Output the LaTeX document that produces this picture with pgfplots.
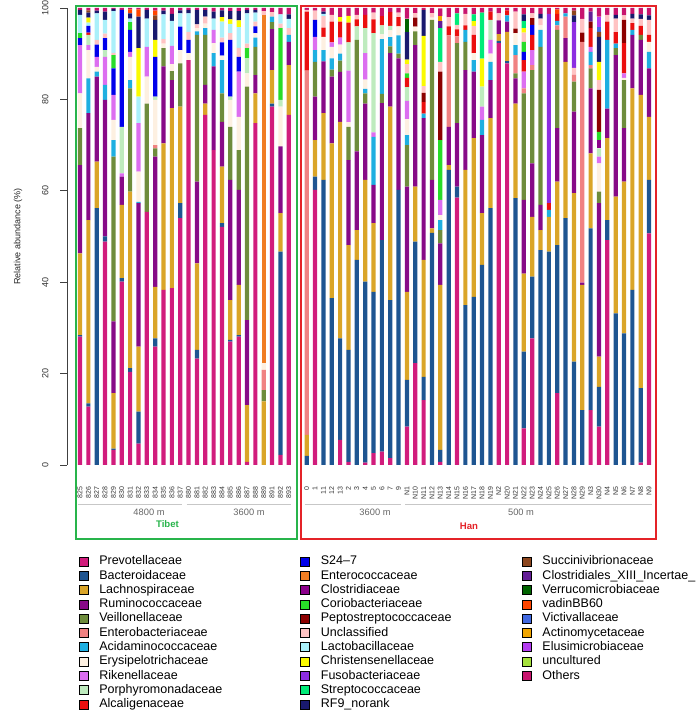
\documentclass[border=0pt]{standalone}
\usepackage{fontspec}
\setmainfont{Liberation Sans}
\usepackage{pgfplots}
\usepackage{pgfplotstable}
\pgfplotsset{compat=1.18}

\definecolor{cPre}{RGB}{209,28,124}
\definecolor{cBac}{RGB}{30,85,145}
\definecolor{cLac}{RGB}{218,165,40}
\definecolor{cRum}{RGB}{135,10,135}
\definecolor{cVei}{RGB}{110,140,60}
\definecolor{cEnt}{RGB}{240,130,130}
\definecolor{cAci}{RGB}{30,175,225}
\definecolor{cEry}{RGB}{253,240,225}
\definecolor{cRik}{RGB}{220,110,240}
\definecolor{cPor}{RGB}{190,235,190}
\definecolor{cAlc}{RGB}{235,15,15}
\definecolor{cS24}{RGB}{0,0,235}
\definecolor{cEnc}{RGB}{240,125,35}
\definecolor{cClo}{RGB}{140,0,140}
\definecolor{cCor}{RGB}{40,220,40}
\definecolor{cPep}{RGB}{140,0,0}
\definecolor{cUnc}{RGB}{255,195,195}
\definecolor{cLab}{RGB}{170,240,250}
\definecolor{cChr}{RGB}{250,250,0}
\definecolor{cFus}{RGB}{140,45,225}
\definecolor{cStr}{RGB}{0,235,120}
\definecolor{cRF9}{RGB}{25,25,110}
\definecolor{cSuc}{RGB}{140,70,30}
\definecolor{cCXI}{RGB}{100,30,150}
\definecolor{cVer}{RGB}{0,100,0}
\definecolor{cvad}{RGB}{255,70,0}
\definecolor{cVic}{RGB}{65,105,225}
\definecolor{cAct}{RGB}{240,165,0}
\definecolor{cElu}{RGB}{180,60,240}
\definecolor{cunc}{RGB}{165,225,60}
\definecolor{cOth}{RGB}{200,20,110}
\definecolor{boxgreen}{RGB}{40,180,75}
\definecolor{boxred}{RGB}{228,35,40}

\pgfplotstableread{
x Pre Bac Lac Rum Vei Ent Aci Ery Rik Por Alc S24 Enc Clo Cor Pep Unc Lab Chr Fus Str RF9 Suc CXI Ver vad Vic Act Elu unc Oth
0  28.1 0.3 17.9 19.3 8.1  0 0 7.6 10.6 0  0 1.5 0 0 1.1  0 0 4 0 0  0 1.1 0 0 0  0 0 0 0 0  0.4
1  12.8 0.7 40.1 23.4 0  0 7.6 6.2 1.1 2.2  0.5 1.5 0 0 0  0 0 0.7 1.1 0  0 1.1 0.5 0 0  0 0 0 0 0  0.5
2  0 56.2 10.2 18.6 0  0 1.1 1 2.2 0  0 2.7 0 0 0  0 1 5.8 0 0  0 0.6 0 0 0  0 0 0 0 0  0.6
3  48.9 1.1 0 29.9 0  0 3.3 0 6.1 1.5  0 2.6 0 0 0  0 1 3 0 0  0 1.8 0 0 0  0 0 0 0 0  0.8
4  3.3 0.3 12.1 15.7 36.1  0 3.6 4.4 5.5 0  0 5.8 0 0 2.9  0 0.5 9.1 0 0  0 0.5 0 0 0  0 0 0 0 0  0.2
5  40.1 0.8 16 6.2 0  0 0 0 0.7 10.2  0 25.6 0 0 0  0 0 0 0 0  0 0 0 0 0  0 0 0 0 0  0.4
6  20.4 0.8 38.6 0 22.6  0 1.8 5.1 1.1 0  0 4.8 0 0 1.7  0 0 0.8 0 0  0 1.1 0 0 0  0.9 0 0 0 0  0.3
7  4.7 7 14.2 31.4 0  0 0.3 6.6 10.6 0  0 0 0 0 0  0 0 5.8 10.6 0  0 6.9 0 0 0  1.6 0 0 0 0  0.3
8  55.4 0 0 0 23.7  0 0 5.9 6.5 0  0 0 0 0 0  0 0 6.2 0 0  0 1.9 0 0 0  0 0 0 0 0  0.4
9  25.9 1.8 11.3 28.5 1.8  0.7 0 9.9 0 0.7  0 8.7 0 0 0  0 0 0 3.7 0  0 4.4 1 0 0  1 0 0 0 0  0.6
10  38.3 0 32.1 16.8 4  0 0 1 0 0  0 0 0 0 0  0 1 5.4 0 0  0 0.8 0 0 0  0 0 0 0 0  0.6
11  38.7 0 39.4 6.1 2  0 0 1.5 4 0  0 0 0 0 0  0 0 5.5 0 0  0 1.5 0 0 0  0 0 0 0 0  1.3
12  54 3.3 21.1 0 9.5  0 0 2.9 0 0  0 5.1 0 0 0  0 0 2.9 0 0  0 0.7 0 0 0  0 0 0 0 0  0.5
13  88.6 0 0 0 0  0 0 1.5 0 0  0 2.9 0 0 0  0 1.8 4 0 0  0 0.8 0 0 0  0 0 0 0 0  0.4
14  23.3 1.9 18.9 17.9 32.1  0 0.8 0.7 0 0  0 0 0 0 0  0 0.8 0 0 0  0 3.2 0 0 0  0 0 0 0 0  0.4
15  76.6 0 2.5 4.1 10.9  0 1.5 1 0 0  0 0 0 0 0  0 1.5 0 0 0  0 1.5 0 0 0  0 0 0 0 0  0.4
16  68.9 0 0 18.3 0  0 2.9 2.2 2.9 0  0 0 0 0 0  0 0 2.5 0 0  0 1.5 0 0 0  0 0 0 0 0  0.8
17  52.1 0.8 12.4 9.8 6.2  0 7.3 1 0 0  0 2.9 0 0 0  0 1 3.5 1 0  0 1.5 0 0 0  0 0 0 0 0  0.5
18  27 0.4 8.7 26.3 11.6  0 0 5.9 0 0.7  0 12.4 0 0 0  0 1.5 2 1 0  0 1.8 0 0 0  0 0 0 0 0  0.7
19  28.1 0.3 11 20.8 8.7  0 0 7.3 9.9 0  0 3.2 0 0 0  0 2 4.5 1.5 0  0 2 0 0 0  0 0 0 0 0  0.7
20  0.7 0 12.4 18.6 51.1  0 0 2.9 0 3.3  0 0 0 0 2.2  0 1 6.6 0 0  0 0.8 0 0 0  0 0 0 0 0  0.4
21  74.8 0 6.5 4 6.2  0 2 1 0 0  0 1.5 0 0 0  0 1 2 0 0  0 0.6 0 0 0  0 0 0 0 0  0.4
22  0 0 13.9 0 2.5  4.4 0 1.5 0 0  0 0 76.2 0 0  0 0.8 0 0 0  0 0 0 0 0  0 0 0 0 0  0.7
23  78.4 0.7 7.3 9 1.5  0 1.2 0 0 0  0 0 0 0 0  0 1 0 0 0  0 0 0 0 0  0 0 0 0 0  0.9
24  2.2 44.5 8.4 14.6 0  0 0 8.7 0 1.5  0 0 0 0 15.7  0 1 2 0 0  0 0 0 0 0  0 0 0 0 0  1.4
25  76.6 0 10.9 5.1 0  0 1.5 0 0 0  0 0 0 0 0  0 1.5 2 0 0  0 1 0 0 0  0 0 0 0 0  1.4
27.15  0 2 4.6 0 0  79.7 0 0 0 0  12.9 0 0 0 0  0 0.4 0 0 0  0 0 0 0 0  0 0 0 0 0  0.4
28.15  60.2 2.9 8 9.5 7.6  0 2.6 0 2.9 0  0 3.7 0 0 0  0 2 0 0 0  0 0 0 0 0  0 0 0 0 0  0.6
29.15  0 62.4 14.6 11.3 0  0 2.5 2.9 0 0  2 0 0 0 0  0 2.5 0.5 0 0  0 0.5 0 0 0  0 0 0 0 0  0.8
30.15  0 36.5 33.9 14.6 1.5  0 2.5 2.5 1 0  4.5 0 0 0 0  0 1.5 0 0 0  0 0 0 0 0  0 0 0 0 0  1.5
31.15  5.5 22.2 47.4 10.9 2.5  0 1.5 2 1.5 0  3.5 0 0 0 0  0 0 0 1 0  0 0 0 0 0  0 0 0 0 0  2
32.15  0.7 24.5 22.9 18.6 7.3  0 0 1 11.3 6.2  4.3 0 0 0 0  0 0 0 1.5 0  0 0 0 0 0  0 0 0 0 0  1.7
33.15  0 44.9 6.5 17.2 24.4  0 0 0 0 3  1.5 0 0 0 0  0 1 0 0 0  0 0 0 0 0  0 0 0 0 0  1.5
34.15  0.5 39.6 22.3 16.7 2.2  0 1 2 5.8 5.5  2.9 0 0 0 0  0 0 0 0 0  0 0 0 0 0  0 0 0 0 0  1.5
35.15  2.6 35.3 15 8.4 0  0 10.5 0 1 21.7  3 0 0 0 0  0 1.5 0 0 0  0 0 0 0 0  0 0 0 0 0  1
36.15  2.9 46.3 0 30 2  0 12 1 0 2  2 0 0 0 0  0 0 0 0 0  0 0 0 0 0  0 0 0 0 0  1.8
37.15  1.5 34.6 42.3 11.7 1.5  0 2 1.5 0 1  3 0 0 0 0  0 0 0 0 0  0 0 0 0 0  0 0 0 0 0  0.9
38.15  0 60.2 0 28.8 1  0 4 2 0 0  2 0 0 0 0  0 1 0 0 0  0 0 0 0 0  0 0 0 0 0  1
39.15  8.4 10.2 19.3 23 9.1  0 2.2 3.5 4 3  2 0 0 0 1  0 2 0 1 0  0 6 0 0 3  0 0 0 0 0  2.3
40.15  22.3 26.6 12 31 3  0 0 1 0 0  0 0 0 0 0  2 1 0 0 0  0 0 0 0 0  0 0 0 0 0  1.1
41.15  14.2 5.1 25.6 31 0  0 1 0 0 0  2.5 0 0 0 0  2 1.5 0 11 0  0 5.7 0 0 0  0 0 0 0 0  0.4
42.15  0 50.8 1 10.6 35  0 0 0.5 0 0  0 0 0 0 0  0 1 0 0 0  0 0 0 0 0  0 0 0 0 0  1.1
43.15  0.7 2.6 36.1 9.1 2.9  0 2.2 1.1 3.3 0  0 0 0 0 13.1  15 2.1 0 0 0  7.4 0 0 1.5 0  0 0 1.1 0 0  1.7
44.15  0 64.6 1 8.4 0  20 0 0 0 0  2 0 0 0 0  0 2 0 0 0  0 0 0 0 0  0 0 0 0 0  2
45.15  58.5 2.4 0 13.9 17.5  1.5 0 0 0 0  1.5 0 0 0 0  0 1 0 0 0  2.5 0 0 0 0  0 0 0 0 0  1.2
46.15  0 35 29.6 21.8 6.2  0 2.6 0 0 0  1 0 0 0 0  0 2.5 0 0 0  0 0 0 0 0  0 0 0 0 0  1.3
47.15  0 36.8 34.7 14.6 0  0 2.5 1.5 0 0  4 0 0 0 0  0 2 0 1 0  1.5 0 0 0 0  0 0 0 0 0  1.4
48.15  0 43.8 11.3 17.1 0  0 3.3 0 2.9 4.4  0 0 0 0 0  0 0 0 6.1 0  10.1 0 0 0 0  0 0 0 0 0  1
49.15  0 56.2 19.7 8.3 0  0 4 1.8 3 4.4  1.8 0 0 0 0  0 0 0 0 0  0 0 0 0 0  0 0 0 0 0  0.8
50.15  92.3 0.5 1.5 3 0  0 0 0 0 0  0 0 0 0 0  0 1.5 0 0 0  0 0 0 0 0  0 0 0 0 0  1.2
51.15  87.9 0.5 6.4 2.2 0  0 1.4 0 0 0  1.1 0 0 0 0  0 0 0 0 0  0 0 0 0 0  0 0 0 0 0  0.5
52.15  0 58.4 20.7 5.5 1.1  4 2.2 2.6 0 0  0 0 0 0 0  1 3.7 0 0 0  0 0 0 0 0  0 0 0 0 0  0.8
53.15  8 16.8 17.1 16.1 23.3  1.1 0 0 3.7 0  2.5 1.8 0 0 2.2  0 2 0 1 0  1.5 1.5 0 0 0  0 0 0 0 0  1.4
54.15  27.7 13.5 13.1 11.7 20.4  1.1 0 0 3.3 0  3.3 2.2 0 0 0  1.5 1 0 0 0  0 0 0 0 0  0 0 0 0 0  1.2
55.15  0 47 4.4 5.5 34.6  0 3.7 1 0 0  0 0 0 0 0  0 1.5 0 0 0  0 1 0 0 0  0 0 0 0 0  1.3
56.15  0 46.7 7.6 0 0  0 1.5 0 0 0  1.5 0 0 0 0  0 0 0 0 41.4  0 0 0 0 0  0 0 0 0 0  1.3
57.15  15.7 32.4 13.9 11.7 21.5  1 1 0 0 0  1.5 0 0 0 0  0 0 0 0 0  0 0 0 0 0  1 0 0 0 0  0.3
58.15  0 54 34.2 5.2 0  4.7 0.7 0 0 0  0 0 0 0 0  0 0 0 0 0  0 0 0 0 0  0 0 0 0 0  1.2
59.15  0 22.6 36.9 17.8 6.6  1.5 0 0 0 0  0 0 0 0 0  0 1.5 0 0 10  0 1.5 1 0 0  0 0 0 0 0  0.6
60.15  0 12 27.4 0.5 0  52.7 0 0 0 0  0 0 0 0 0  2 3 0 0 0  0 0 0 0 0  0 0 0 0 0  2.4
61.15  12 39.8 16.4 14.2 4.4  0.7 2.9 0 1.1 0  4.1 0 0 0 0  1.4 0 0 0 0  0 0 0 2.2 0  0 0 0 0 0  0.8
62.15  8.4 8.7 6.6 33.6 2.5  0 0 6.2 1.5 1.8  0 0 0 1.8 1.8  9.2 2.1 0 4 0  0 5.5 1.1 0 0  0 1.1 0 2.2 0  1.9
63.15  49.2 4.4 17.9 6.5 0  0 15 0 0 0  4 0 0 0 0  0 1.5 0 0 0  0 0 0 0 0  0 0 0 0 0  1.5
64.15  0 33.2 25.5 31 1.5  0 1 0 0 0  2.5 0 0 0 0  0 3 0 0 0  0 0.8 0 0 0  0 0 0 0 0  1.5
65.15  0 28.8 33.2 11.7 10.5  0 0 0.5 1 0  6.6 0 0 0 0  5.1 1 0 0 0  0 0 0 0 0  0 0 0 0 0  1.6
66.15  0 38.3 44.1 11.7 0  0 1.1 0 0 0  1.5 0 0 0 0  0 1 0 0 0  0 1 0 0 0  0 0 0 0 0  1.3
67.15  0.5 16.3 64.2 12 1.1  0 0 0 0 0  2 0 0 0 0  0 1.5 0 0 0  0 1 0 0 0  0 0 0 0 0  1.4
68.15  50.7 11.7 13.8 10.6 0  0 3.6 2.2 0 0  1.5 0 0 0 0  0 3.3 0 0 0  0 1 0 0 0  0 0 0 0 0  1.6
}\data

\pgfplotsset{
  sq/.style={legend image code/.code={\filldraw[fill=#1,draw=black,line width=0.6pt] (0pt,-4.5pt) rectangle (9pt,4.5pt);}}
}
\newcommand{\LG}[2]{\addlegendimage{sq=#1}\addlegendentry{\makebox[212pt][l]{\hspace{11pt}#2}}}
\newcommand{\LGE}{\addlegendimage{empty legend}\addlegendentry{}}

\begin{document}
\begin{tikzpicture}[x=1pt,y=1pt]
\path[use as bounding box] (0,0) rectangle (698,717);
\begin{axis}[
  at={(67pt,252pt)}, anchor=south west,
  scale only axis, width=593pt, height=457pt,
  xmin=-1.557, xmax=69.46, ymin=0, ymax=100,
  ybar stacked, bar width=4.2pt,
  axis x line*=bottom, axis y line*=left,
  x axis line style={draw=none},
  y axis line style={-, line width=0.7pt, black!75},
  xtick=data,
  xticklabels={825,826,827,828,829,830,831,832,833,834,835,836,837,880,881,882,883,884,885,886,887,888,889,891,892,893,0,1,11,12,13,2,3,4,5,6,7,9,N1,N10,N11,N12,N13,N14,N15,N16,N17,N18,N19,N2,N20,N21,N22,N23,N24,N25,N26,N27,N28,N29,N3,N30,N4,N5,N6,N7,N8,N9},
  xtick style={draw=none},
  xticklabel style={rotate=90, anchor=east, font=\fontsize{7}{7}\selectfont, text=black!80, xshift=-11.5pt},
  ytick={0,20,40,60,80,100},
  ytick style={line width=0.7pt, black!75},
  tick align=outside, major tick length=7pt,
  yticklabel style={rotate=90, anchor=south, font=\fontsize{9}{9}\selectfont, text=black!80, yshift=8pt},
  /pgf/number format/assume math mode=true,
  legend columns=3,
  legend style={at={(0.0143,-0.1937)}, anchor=north west, draw=none, fill=none,
    font=\fontsize{12.5}{14}\selectfont, row sep=2.8pt, column sep=0pt,
    nodes={inner sep=0pt, text height=9pt, text depth=2.5pt}},
  legend cell align=left,
]
\pgfplotsinvokeforeach{Pre,Bac,Lac,Rum,Vei,Ent,Aci,Ery,Rik,Por,Alc,S24,Enc,Clo,Cor,Pep,Unc,Lab,Chr,Fus,Str,RF9,Suc,CXI,Ver,vad,Vic,Act,Elu,unc,Oth}{
  \addplot[fill=c#1, draw=none, forget plot] table[x=x,y=#1]{\data};
}
\LG{cPre}{Prevotellaceae}\LG{cS24}{S24--7}\LG{cSuc}{Succinivibrionaceae}
\LG{cBac}{Bacteroidaceae}\LG{cEnc}{Enterococcaceae}\LG{cCXI}{Clostridiales\_XIII\_Incertae\_}
\LG{cLac}{Lachnospiraceae}\LG{cClo}{Clostridiaceae}\LG{cVer}{Verrucomicrobiaceae}
\LG{cRum}{Ruminococcaceae}\LG{cCor}{Coriobacteriaceae}\LG{cvad}{vadinBB60}
\LG{cVei}{Veillonellaceae}\LG{cPep}{Peptostreptococcaceae}\LG{cVic}{Victivallaceae}
\LG{cEnt}{Enterobacteriaceae}\LG{cUnc}{Unclassified}\LG{cAct}{Actinomycetaceae}
\LG{cAci}{Acidaminococcaceae}\LG{cLab}{Lactobacillaceae}\LG{cElu}{Elusimicrobiaceae}
\LG{cEry}{Erysipelotrichaceae}\LG{cChr}{Christensenellaceae}\LG{cunc}{uncultured}
\LG{cRik}{Rikenellaceae}\LG{cFus}{Fusobacteriaceae}\LG{cOth}{Others}
\LG{cPor}{Porphyromonadaceae}\LG{cStr}{Streptococcaceae}\LGE
\LG{cAlc}{Alcaligenaceae}\LG{cRF9}{RF9\_norank}\LGE
\end{axis}
\node[rotate=90, font=\fontsize{9}{10}\selectfont, text=black!85] at (18,480.5) {Relative abundance (\%)};
\draw[black!22, line width=1.5pt] (78,212.7) -- (182.3,212.7);
\draw[black!22, line width=1.5pt] (186.5,212.7) -- (290.9,212.7);
\draw[black!22, line width=1.5pt] (304.6,212.7) -- (400.9,212.7);
\draw[black!22, line width=1.5pt] (405,212.7) -- (652,212.7);
\node[text=black!60, font=\fontsize{9.3}{10}\selectfont] at (149,204.7) {4800 m};
\node[text=black!60, font=\fontsize{9.3}{10}\selectfont] at (249,204.7) {3600 m};
\node[text=black!60, font=\fontsize{9.3}{10}\selectfont] at (375,204.3) {3600 m};
\node[text=black!60, font=\fontsize{9.3}{10}\selectfont] at (521,204.3) {500 m};
\node[text=boxgreen, font=\bfseries\fontsize{9.6}{10}\selectfont] at (167.5,192.7) {Tibet};
\node[text=boxred, font=\bfseries\fontsize{9.6}{10}\selectfont] at (469,190.3) {Han};
\draw[boxgreen, line width=2pt] (75.7,178) rectangle (297.3,711.3);
\draw[boxred, line width=2pt] (300.7,178) rectangle (655.7,711.3);
\end{tikzpicture}
\end{document}
